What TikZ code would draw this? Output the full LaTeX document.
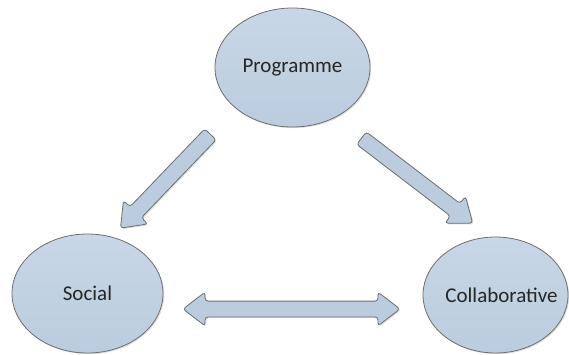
\documentclass[tikz,border=0pt]{standalone}
\usepackage{fontspec}
\setmainfont{Carlito}
\usetikzlibrary{shapes.geometric,shapes.arrows,shadows}
\definecolor{bubble}{HTML}{BACCDE}
\definecolor{bubbletop}{HTML}{C8D7E7}
\definecolor{edgegray}{HTML}{6E6E6E}
\definecolor{txt}{HTML}{262626}
\tikzset{
  bubblenode/.style={ellipse, draw=edgegray, line width=0.8pt,
    top color=bubbletop, bottom color=bubble, inner sep=0pt,
    drop shadow={opacity=0.25, shadow xshift=1.2pt, shadow yshift=-1.2pt},
    label={[text=txt, font=\fontsize{21}{24}\selectfont]center:#1}},
  blockarrow/.style={single arrow, draw=edgegray, line width=0.8pt,
    fill=bubble, inner xsep=0pt, inner ysep=7.5pt, rounded corners=3pt,
    single arrow head extend=9pt, single arrow tip angle=75,
    drop shadow={opacity=0.25, shadow xshift=1.2pt, shadow yshift=-1.2pt}},
  dblockarrow/.style={double arrow, draw=edgegray, line width=0.8pt,
    fill=bubble, inner xsep=0pt, inner ysep=7.5pt, rounded corners=3pt,
    double arrow head extend=9pt, double arrow tip angle=75,
    drop shadow={opacity=0.25, shadow xshift=1.2pt, shadow yshift=-1.2pt}}
}
\begin{document}
\begin{tikzpicture}[x=1pt,y=1pt]
\useasboundingbox (0,0) rectangle (569,-354);
\node[bubblenode=Programme, minimum width=155pt, minimum height=119pt] (prog) at (292.5,-67.5) {};
\node[bubblenode=Social, minimum width=151pt, minimum height=119pt] (soc) at (87.5,-293.5) {};
\node[bubblenode={\hspace*{12pt}Collaborative}, minimum width=145pt, minimum height=116pt] (col) at (495.5,-295) {};
\node[blockarrow, minimum height=130pt, rotate=226.2] (a1) at (169,-177.5) {};
\node[blockarrow, minimum height=140pt, rotate=-37.4] (a2) at (413,-177.5) {};
\node[dblockarrow, minimum height=217pt] (a3) at (291.5,-309) {};
\end{tikzpicture}
\end{document}
